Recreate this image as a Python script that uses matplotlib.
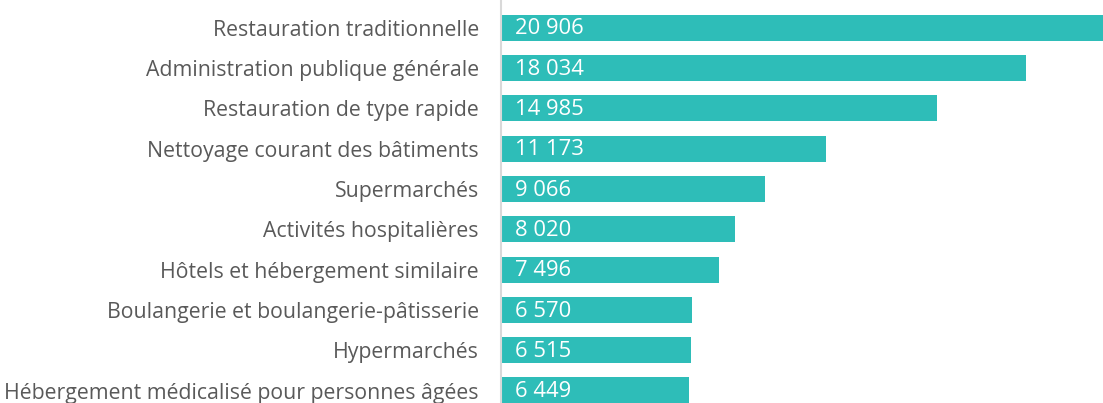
import numpy as np
import matplotlib.pyplot as plt

categories = [
    "Restauration traditionnelle",
    "Administration publique générale",
    "Restauration de type rapide",
    "Nettoyage courant des bâtiments",
    "Supermarchés",
    "Activités hospitalières",
    "Hôtels et hébergement similaire",
    "Boulangerie et boulangerie-pâtisserie",
    "Hypermarchés",
    "Hébergement médicalisé pour personnes âgées",
]
values = [20906, 18034, 14985, 11173, 9066, 8020, 7496, 6570, 6515, 6449]

plt.rcParams['font.family'] = ['Open Sans', 'DejaVu Sans']

fig = plt.figure(figsize=(11.03, 4.03), dpi=100)
ax = fig.add_axes([501 / 1103, 0, 602 / 1103, 1])

y = np.arange(len(values))
ax.barh(y, values, height=0.645, color='#2ebdb8', zorder=2)

for i, v in enumerate(values):
    label = f"{v:,}".replace(",", " ")
    ax.text(480, i + 0.03, label, color='white', fontsize=15.8,
            va='center', ha='left', zorder=3)

ax.set_xlim(0, 20670)
ax.set_ylim(9.31, -0.685)
ax.set_yticks(y)
ax.set_yticklabels(categories, fontsize=15.3, color='#595959')
ax.tick_params(axis='y', length=0, pad=16)
ax.set_xticks([])
for s in ['top', 'right', 'bottom']:
    ax.spines[s].set_visible(False)
ax.spines['left'].set_color('#d9d9d9')
ax.spines['left'].set_linewidth(1.5)

fig.savefig('out.png', dpi=100)
